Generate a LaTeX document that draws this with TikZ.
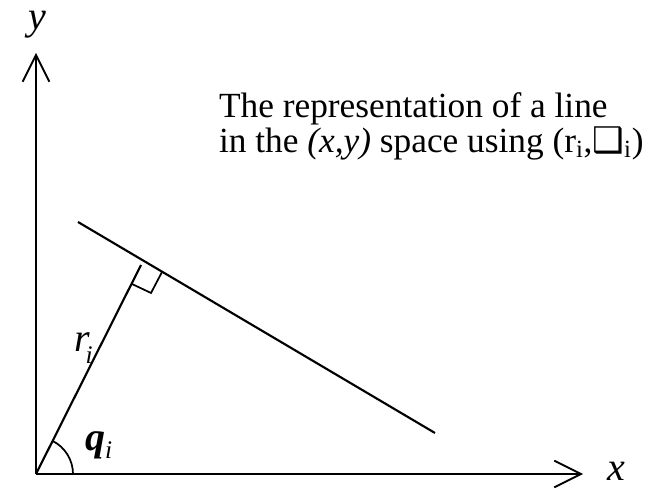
\documentclass[tikz,border=0pt]{standalone}
\usepackage{fontspec}
\setmainfont{Liberation Serif}
\newfontfamily\dejavu{DejaVu Sans}
\usetikzlibrary{arrows.meta, positioning}

\begin{document}
\begin{tikzpicture}[x=0.75pt, y=0.75pt, line width=1.6pt,
    axis/.style = {-{Straight Barb[length=20pt, width=20pt, line width=1.4pt]}},
    lbl/.style = {inner sep=0pt, font=\fontsize{30}{30}\selectfont\itshape},
    desc/.style = {inner sep=0pt, align=left, font=\fontsize{26.5}{26.25}\selectfont}]
    \useasboundingbox (0,0) rectangle (655,488);
    \coordinate (O) at (36,14); \coordinate (Y) at (36,435); \coordinate (X) at (583,14);
    \coordinate (L1) at (78,266); \coordinate (L2) at (435,55); \coordinate (R) at (141,223);
    \coordinate (A) at (132,204); \coordinate (B) at (151,195); \coordinate (C) at (162,216);
    % axes
    \draw[axis] (O) -- (Y); \draw[axis] (O) -- (X);
    \node[lbl, anchor=base] (ylab) at (37,458) {y};
    \node[lbl, anchor=base] (xlab) at (616,8) {x};
    % line, normal and right angle
    \draw (L1) -- (L2); \draw (O) -- (R); \draw[line width=1.3pt] (A) -- (B) -- (C);
    \draw[line width=1.3pt] ([shift={(0:37)}]O) arc (0:63.3:37);
    \node[lbl, anchor=base west] (rlab) at (73,136) {r\kern-3pt\raisebox{-0.3em}{\fontsize{19}{19}\selectfont i}};
    \node[lbl, anchor=base west, font=\fontsize{30}{30}\selectfont\bfseries\itshape] (qlab) at (84,37) {q\raisebox{-0.2em}{\fontsize{19}{19}\selectfont\mdseries i}};
    \node[desc, anchor=base west] (note) at (218,335) {The representation of a line\\in the \textit{(x,y)} space using (r\textsubscript{i},{\dejavu ❑}\textsubscript{i})};
\end{tikzpicture}
\end{document}
